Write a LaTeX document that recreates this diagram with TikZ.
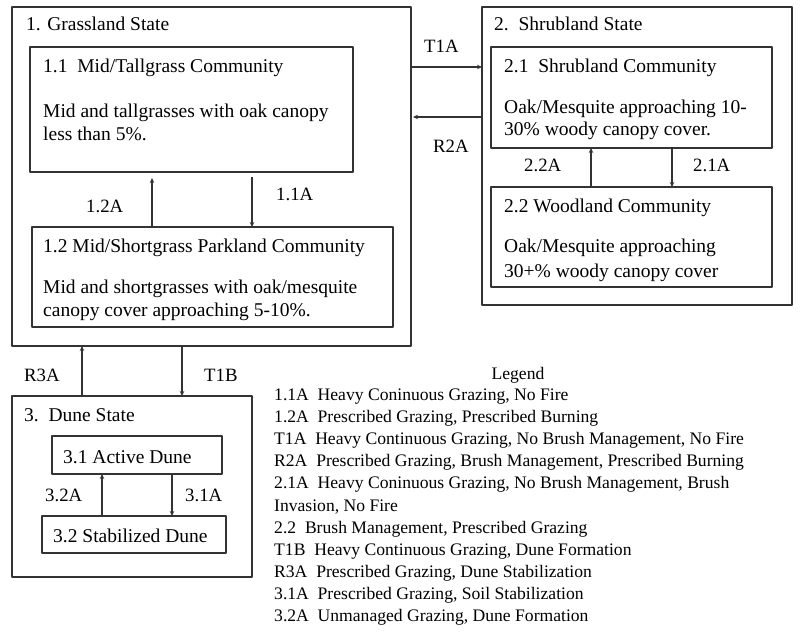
\documentclass[tikz,border=0pt]{standalone}
\usepackage{fontspec}
\newfontfamily\tnr{Liberation Serif}
\usetikzlibrary{arrows.meta}
\tikzset{
	box/.style={draw=black!80, line width=1.4pt, anchor=north west, inner sep=0pt, outer sep=0pt},
	txt/.style={anchor=base west, inner sep=0pt, font=\tnr\fontsize{19.5}{23}\selectfont},
	lab/.style={anchor=base west, inner sep=0pt, font=\tnr\fontsize{18.8}{22}\selectfont},
	leg/.style={anchor=base west, inner sep=0pt, font=\tnr\fontsize{17.6}{22}\selectfont},
	arr/.style={draw=black!80, line width=1.2pt, -{Stealth[length=5pt,width=4.5pt]}}
}
\begin{document}
\begin{tikzpicture}[x=1pt, y=-1pt, line join=round]
			\fill[white] (0,0) rectangle (800,636);
			\useasboundingbox (0,0) rectangle (800,636);
			% States
			\node[box, minimum width=399pt, minimum height=339pt] (grass) at (12,7) {};
			\node[box, minimum width=310pt, minimum height=298pt] (shrub) at (482,7) {};
			\node[box, minimum width=240pt, minimum height=181pt] (dune) at (12,396) {};
			% Communities
			\node[box, minimum width=323pt, minimum height=125pt] (c11) at (30,47) {};
			\node[box, minimum width=361pt, minimum height=100pt] (c12) at (32,227) {};
			\node[box, minimum width=281pt, minimum height=101pt] (c21) at (491,47) {};
			\node[box, minimum width=281pt, minimum height=100pt] (c22) at (491,187) {};
			\node[box, minimum width=170pt, minimum height=38pt] (c31) at (52,436) {};
			\node[box, minimum width=184pt, minimum height=37pt] (c32) at (42,516) {};
			% Texts
			\node[txt] (t1) at (26,31) {1. Grassland State};
			\node[txt] (t11) at (43,73) {1.1\ \ Mid/Tallgrass Community};
			\node[txt] (d11a) at (43,118) {Mid and tallgrasses with oak canopy};
			\node[txt] (d11b) at (43,141) {less than 5\%.};
			\node[txt] (t12) at (43,253) {1.2 Mid/Shortgrass Parkland Community};
			\node[txt] (d12a) at (43,293) {Mid and shortgrasses with oak/mesquite};
			\node[txt] (d12b) at (43,316) {canopy cover approaching 5-10\%.};
			\node[txt] (t2) at (494,31) {2.\ \ Shrubland State};
			\node[txt] (t21) at (504,73) {2.1\ \ Shrubland Community};
			\node[txt] (d21a) at (504,114) {Oak/Mesquite approaching 10-};
			\node[txt] (d21b) at (504,136) {30\% woody canopy cover.};
			\node[txt] (t22) at (504,213) {2.2 Woodland Community};
			\node[txt] (d22a) at (504,253) {Oak/Mesquite approaching};
			\node[txt] (d22b) at (504,277) {30+\% woody canopy cover};
			\node[txt] (t3) at (24,421) {3.\ \ Dune State};
			\node[txt] (t31) at (63,463) {3.1 Active Dune};
			\node[txt] (t32) at (53,542) {3.2 Stabilized Dune};
			% Transitions
			\node[lab] (l11) at (276,201) {1.1A};
			\node[lab] (l12) at (86,213) {1.2A};
			\node[lab] (lT1A) at (424,53) {T1A};
			\node[lab] (lR2A) at (433,153) {R2A};
			\node[lab] (l22) at (524,172) {2.2A};
			\node[lab] (l21) at (693,172) {2.1A};
			\node[lab] (lR3A) at (24,381) {R3A};
			\node[lab] (lT1B) at (204,381) {T1B};
			\node[lab] (l32) at (45,501) {3.2A};
			\node[lab] (l31) at (185,501) {3.1A};
			\draw[arr] (grass.east |- 0,67) -- (shrub.west |- 0,67);
			\draw[arr, shorten >=2pt] (shrub.west |- 0,117) -- (grass.east |- 0,117);
			\draw[arr, shorten >=6pt] (c12.north -| 152,0) -- (c11.south -| 152,0);
			\draw[arr, shorten <=5pt] (c11.south -| 252,0) -- (c12.north -| 252,0);
			\draw[arr] (c22.north -| 591,0) -- (c21.south -| 591,0);
			\draw[arr] (c21.south -| 672,0) -- (c22.north -| 672,0);
			\draw[arr] (dune.north -| 82,0) -- (grass.south -| 82,0);
			\draw[arr] (grass.south -| 182,0) -- (dune.north -| 182,0);
			\draw[arr] (c32.north -| 102,0) -- (c31.south -| 102,0);
			\draw[arr] (c31.south -| 172,0) -- (c32.north -| 172,0);
			% Legend
			\node[leg, anchor=base] (leg) at (518,379) {Legend};
			\foreach \t [count=\i] in {{1.1A\ \ Heavy Coninuous Grazing, No Fire},
				{1.2A\ \ Prescribed Grazing, Prescribed Burning},
				{T1A\ \ Heavy Continuous Grazing, No Brush Management, No Fire},
				{R2A\ \ Prescribed Grazing, Brush Management, Prescribed Burning},
				{2.1A\ \ Heavy Coninuous Grazing, No Brush Management, Brush},
				{Invasion, No Fire},
				{2.2\ \ Brush Management, Prescribed Grazing},
				{T1B\ \ Heavy Continuous Grazing, Dune Formation},
				{R3A\ \ Prescribed Grazing, Dune Stabilization},
				{3.1A\ \ Prescribed Grazing, Soil Stabilization},
				{3.2A\ \ Unmanaged Grazing, Dune Formation}}
			\node[leg] (leg\i) at (274,{400.5+22.1*(\i-1)}) {\t};
\end{tikzpicture}
\end{document}
